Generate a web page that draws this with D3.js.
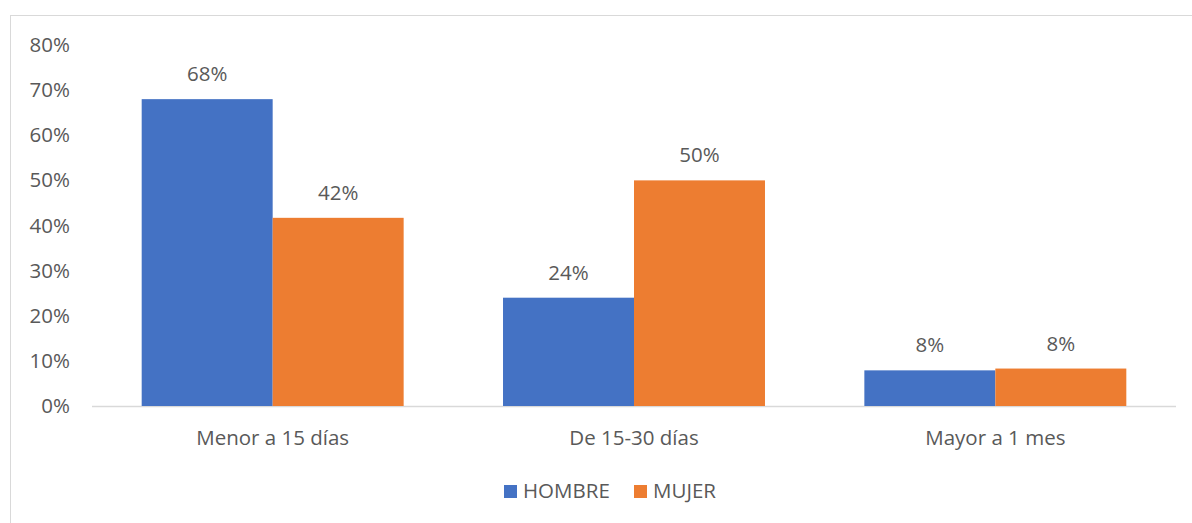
<!DOCTYPE html>
<html>
<head>
<meta charset="utf-8">
<script src="https://cdn.jsdelivr.net/npm/d3@7"></script>
<style>
  body { margin: 0; background: #fff; }
  text { font-family: "Open Sans", "Liberation Sans", sans-serif; fill: #595959; }
</style>
</head>
<body>
<div id="chart"></div>
<script>
// data
const categories = ["Menor a 15 días", "De 15-30 días", "Mayor a 1 mes"]
const seriesNames = ["HOMBRE", "MUJER"]
const hombre = [0.68, 0.24, 0.079]
const mujer = [0.417, 0.50, 0.083]
const yTicks = [0, 0.1, 0.2, 0.3, 0.4, 0.5, 0.6, 0.7, 0.8]
const colors = ["#4472C4", "#ED7D31"]

const width = 1192
const height = 523
const margin = { top: 45, bottom: 117, left: 92, right: 16 }
const fontSize = "20.5px"

const svg = d3.select("#chart").append("svg").attr("width", width).attr("height", height)

// chart border
svg.append("rect")
    .attr("x", 10.5).attr("y", 15.5)
    .attr("width", width + 20).attr("height", height + 20)
    .attr("fill", "none").attr("stroke", "#D9D9D9")

// scales
const x = d3.scaleBand().domain(categories)
    .range([margin.left, width - margin.right])
    .paddingInner(0.275).paddingOuter(0.1375)
const xSub = d3.scaleBand().domain(seriesNames).range([0, x.bandwidth()])
const y = d3.scaleLinear().domain([0, 0.8]).range([height - margin.bottom, margin.top])

// y axis
const yAxis = d3.axisLeft(y).tickValues(yTicks).tickFormat(d3.format(".0%")).tickSize(0).tickPadding(22)
svg.append("g").attr("transform", `translate(${margin.left}, 0)`).call(yAxis)
    .call(g => g.select(".domain").remove())
    .selectAll("text").style("font-size", fontSize).attr("fill", "#595959")

// baseline
svg.append("line")
    .attr("x1", margin.left).attr("x2", width - margin.right)
    .attr("y1", y(0) + 0.5).attr("y2", y(0) + 0.5)
    .attr("stroke", "#D9D9D9").attr("stroke-width", 1.5)

// x axis labels
const xAxis = d3.axisBottom(x).tickSize(0).tickPadding(24)
svg.append("g").attr("transform", `translate(0, ${y(0)})`).call(xAxis)
    .call(g => g.select(".domain").remove())
    .selectAll("text").style("font-size", fontSize).attr("fill", "#595959")

// bars
const rows = categories.map((c, i) => ({ cat: c, vals: [hombre[i], mujer[i]] }))
const groups = svg.selectAll(".grp").data(rows).enter().append("g")
    .attr("transform", d => `translate(${x(d.cat)}, 0)`)

groups.selectAll("rect").data(d => d.vals.map((v, j) => ({ s: seriesNames[j], v: v, j: j })))
    .enter().append("rect")
    .attr("x", d => xSub(d.s))
    .attr("width", xSub.bandwidth())
    .attr("y", d => y(d.v))
    .attr("height", d => y(0) - y(d.v))
    .attr("fill", d => colors[d.j])

groups.selectAll(".lbl").data(d => d.vals.map((v, j) => ({ s: seriesNames[j], v: v })))
    .enter().append("text")
    .attr("x", d => xSub(d.s) + xSub.bandwidth() / 2)
    .attr("y", d => y(d.v) - 18)
    .attr("text-anchor", "middle")
    .style("font-size", fontSize)
    .text(d => Math.round(d.v * 100) + "%")

// legend
const legendItems = [{ name: "HOMBRE", x: 504 }, { name: "MUJER", x: 634 }]
const legend = svg.append("g")
legendItems.forEach((d, i) => {
    legend.append("rect").attr("x", d.x).attr("y", 485).attr("width", 13).attr("height", 13).attr("fill", colors[i])
    legend.append("text").attr("x", d.x + 19).attr("y", 498).style("font-size", fontSize).text(d.name)
})
</script>
</body>
</html>
